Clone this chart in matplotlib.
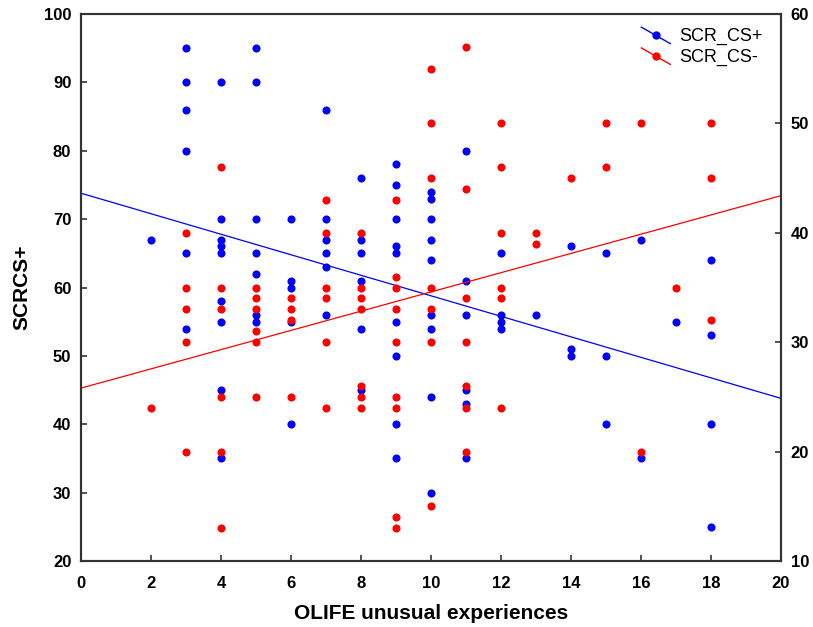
import numpy as np
import matplotlib
matplotlib.use("Agg")
import matplotlib.pyplot as plt
from matplotlib.lines import Line2D
from matplotlib.legend_handler import HandlerBase

# ============================================================
# DATA
# ============================================================

# SCR_CS+ (left axis)
cs_plus_x = (
    [2] + [3] * 6 + [4] * 9 + [5] * 7 + [6] * 5 + [7] * 6 + [8] * 6 + [9] * 9
    + [10] * 9 + [11] * 6 + [12] * 4 + [13] + [14] * 3 + [15] * 3 + [16] * 2
    + [17] + [18] * 4
)
cs_plus_y = [
    67,
    95, 90, 86, 80, 65, 54,
    90, 70, 67, 66, 65, 58, 55, 45, 35,
    95, 90, 70, 65, 62, 56, 55,
    70, 61, 60, 55, 40,
    86, 70, 67, 65, 63, 56,
    76, 67, 65, 61, 54, 45,
    78, 75, 70, 66, 65, 55, 50, 40, 35,
    74, 73, 70, 67, 64, 56, 54, 44, 30,
    80, 61, 56, 45, 43, 35,
    65, 56, 55, 54,
    56,
    66, 51, 50,
    65, 50, 40,
    67, 35,
    55,
    64, 53, 40, 25,
]

# SCR_CS- (right axis)
cs_minus_x = (
    [2] + [3] * 5 + [4] * 6 + [5] * 6 + [6] * 4 + [7] * 6 + [8] * 7 + [9] * 9
    + [10] * 7 + [11] * 7 + [12] * 6 + [13] * 2 + [14] + [15] * 2 + [16] * 2
    + [17] + [18] * 3
)
cs_minus_y = [
    24,
    40, 35, 33, 30, 20,
    46, 35, 33, 25, 20, 13,
    35, 34, 33, 31, 30, 25,
    34, 33, 32, 25,
    43, 40, 35, 34, 30, 24,
    40, 35, 34, 33, 26, 25, 24,
    43, 36, 35, 33, 30, 25, 24, 14, 13,
    55, 50, 45, 35, 33, 30, 15,
    57, 44, 34, 30, 26, 24, 20,
    50, 46, 40, 35, 34, 24,
    40, 39,
    45,
    50, 46,
    50, 20,
    35,
    50, 45, 32,
]

x_ticks = list(range(0, 21, 2))
left_ticks = list(range(20, 101, 10))
right_ticks = list(range(10, 61, 10))

BLUE = "#0000ff"
RED = "#ff0000"

plt.rcParams["font.family"] = ["Liberation Sans", "DejaVu Sans"]


class DiagHandler(HandlerBase):
    # legend key: short diagonal line with a dot in the middle
    def create_artists(self, legend, orig_handle, xdescent, ydescent,
                       width, height, fontsize, trans):
        c = orig_handle.get_color()
        x0, y0 = -xdescent, -ydescent
        ln = Line2D([x0, x0 + width], [y0 + height * 1.1, y0 - height * 0.2],
                    color=c, lw=1.0, transform=trans)
        pt = Line2D([x0 + width / 2], [y0 + height * 0.45], marker="o",
                    ms=5, color=c, ls="", transform=trans)
        return [ln, pt]


# ============================================================
# PLOT
# ============================================================

fig = plt.figure(figsize=(8.13, 6.27), dpi=100)
ax = fig.add_axes([81 / 813, 1 - 561 / 627, 700 / 813, 547 / 627])
ax2 = ax.twinx()

xp = np.array(cs_plus_x, dtype=float)
yp = np.array(cs_plus_y, dtype=float)
xm = np.array(cs_minus_x, dtype=float)
ym = np.array(cs_minus_y, dtype=float)

ax.scatter(xp, yp, s=34, color=BLUE, linewidths=0, zorder=3)
ax2.scatter(xm, ym, s=34, color=RED, linewidths=0, zorder=3)

xx = np.array([0, 20])
bp = np.polyfit(xp, yp, 1)
bm = np.polyfit(xm, ym, 1)
ax.plot(xx, np.polyval(bp, xx), color=BLUE, lw=0.9, zorder=2)
ax2.plot(xx, np.polyval(bm, xx), color=RED, lw=0.9, zorder=2)

ax.set_xlim(0, 20)
ax.set_ylim(20, 100)
ax2.set_ylim(10, 60)
ax.set_xticks(x_ticks)
ax.set_yticks(left_ticks)
ax2.set_yticks(right_ticks)

for a in (ax, ax2):
    a.tick_params(direction="in", length=4, width=1.2, labelsize=12,
                  color="#333333")
    for lab in a.get_xticklabels() + a.get_yticklabels():
        lab.set_fontweight("bold")
    for sp in a.spines.values():
        sp.set_linewidth(1.5)
        sp.set_color("#333333")
ax.spines["top"].set_color("#777777")
ax.tick_params(axis="x", pad=11)
ax.tick_params(axis="y", pad=7)
ax2.tick_params(axis="y", pad=7)

ax.set_xlabel("OLIFE unusual experiences", fontsize=15, fontweight="bold",
              labelpad=9)
ax.set_ylabel("SCRCS+", fontsize=15, fontweight="bold", labelpad=9)

handles = [Line2D([], [], color=BLUE), Line2D([], [], color=RED)]
ax2.legend(handles, ["SCR_CS+", "SCR_CS-"], handler_map={Line2D: DiagHandler()},
           loc="upper right", bbox_to_anchor=(0.997, 1.004), frameon=False,
           fontsize=13, handlelength=1.6, handletextpad=0.5,
           labelspacing=0.2)

fig.savefig("out.png", dpi=100)
